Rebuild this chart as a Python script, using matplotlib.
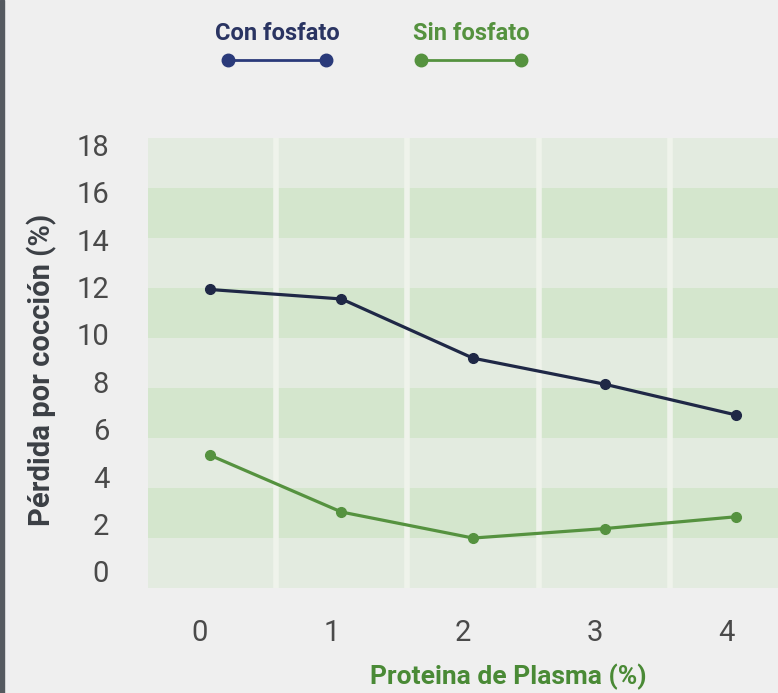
import numpy as np
import matplotlib
matplotlib.use('Agg')
import matplotlib.pyplot as plt
import matplotlib.transforms as mtransforms

# Data
plasma = [0, 1, 2, 3, 4]
con_fosfato = [11.9, 11.5, 9.0, 7.9, 6.6]
sin_fosfato = [4.9, 2.5, 1.4, 1.8, 2.3]
y_ticks = [0, 2, 4, 6, 8, 10, 12, 14, 16, 18]

navy = '#1f2846'
green = '#55923f'
bg = '#efefef'

plt.rcParams['font.family'] = ['Roboto', 'DejaVu Sans']

fig = plt.figure(figsize=(7.78, 6.93), dpi=100)
fig.patch.set_facecolor(bg)
ax = fig.add_axes([148 / 778, 105 / 693, 1 - 148 / 778, 450 / 693])
ax.set_facecolor('#e3ebe0')

ylim = (-0.71, 18.30)
xlim = (-0.471, 4.319)
ax.set_xlim(*xlim)
ax.set_ylim(*ylim)

# horizontal bands (9 equal stripes, darker every other one)
edges = np.linspace(ylim[0], ylim[1], 10)
for i in range(9):
    if i % 2 == 1:
        ax.axhspan(edges[i], edges[i + 1], color='#d4e6cd', lw=0, zorder=0)

# pale column separators
for xv in [0.5, 1.5, 2.5, 3.5]:
    ax.axvline(xv, color='#eff3eb', lw=4, zorder=1)

ax.plot(plasma, con_fosfato, color=navy, lw=2.3, marker='o', ms=7, zorder=3)
ax.plot(plasma, sin_fosfato, color=green, lw=2.3, marker='o', ms=7, zorder=3)

for s in ax.spines.values():
    s.set_visible(False)

ax.set_xticks(plasma)
ax.set_xticklabels([str(p) for p in plasma])
ax.set_yticks(y_ticks)
ax.set_yticklabels([str(t) for t in y_ticks])
ax.tick_params(length=0, labelsize=21, colors='#4a4a4a')
ax.tick_params(axis='x', pad=22)
ax.tick_params(axis='y', pad=28)
shift = mtransforms.ScaledTranslation(-10 / 100, 0, fig.dpi_scale_trans)
for lab in ax.get_xticklabels():
    lab.set_transform(lab.get_transform() + shift)

fig.text(42 / 778, 1 - 370 / 693, 'Pérdida por cocción (%)', rotation=90,
         ha='center', va='center', fontsize=21, fontweight='bold', color='#3b3f45')
fig.text(508 / 778, 1 - 677 / 693, 'Proteina de Plasma (%)',
         ha='center', va='center', fontsize=19, fontweight='bold', color='#4a8a36')

# legend drawn by hand at the top
fig.text(277 / 778, 1 - 33 / 693, 'Con fosfato', ha='center', va='center',
         fontsize=17, fontweight='bold', color='#2a3462')
fig.text(471 / 778, 1 - 33 / 693, 'Sin fosfato', ha='center', va='center',
         fontsize=17, fontweight='bold', color=green)
fig.add_artist(plt.Line2D([228 / 778, 326 / 778], [1 - 60 / 693] * 2, color='#2a3a7a',
                          lw=2, marker='o', ms=9, transform=fig.transFigure))
fig.add_artist(plt.Line2D([421 / 778, 521 / 778], [1 - 60 / 693] * 2, color=green,
                          lw=2, marker='o', ms=9, transform=fig.transFigure))

# dark strip at the left edge
fig.add_artist(plt.Rectangle((0, 0), 4 / 778, 1, color='#555a60', transform=fig.transFigure))

fig.savefig('out.png', dpi=100, facecolor=bg)
